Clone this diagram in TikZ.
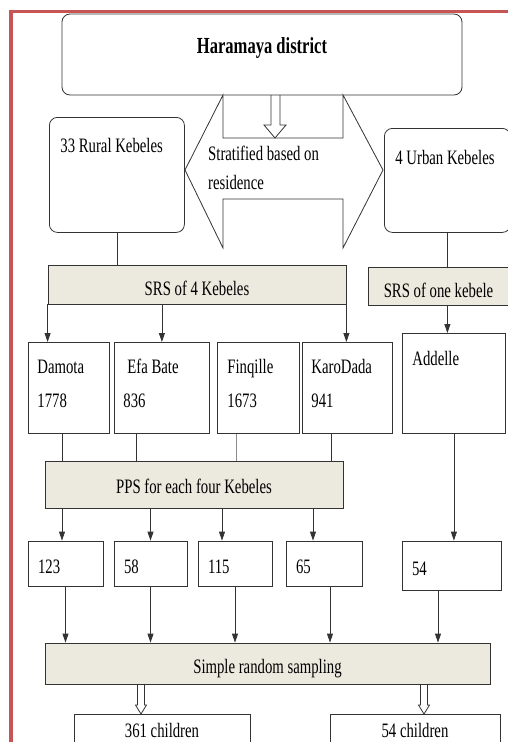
\documentclass[tikz,border=0pt]{standalone}
\usepackage{fontspec}
\setmainfont{Liberation Serif}[FakeStretch=0.72]
\usetikzlibrary{arrows.meta}
\definecolor{bandfill}{RGB}{236,233,222}
\definecolor{framered}{RGB}{200,85,85}

\begin{document}
\begin{tikzpicture}[x=1pt, y=-1pt,
  every node/.style={font=\fontsize{20.5}{34}\selectfont},
  wire/.style={draw=black!80, line width=0.8pt},
  box/.style={wire, inner sep=0pt, align=flush left},
  roundbox/.style={box, rounded corners=8pt},
  band/.style={wire, fill=bandfill, inner sep=0pt, text height=22pt, text depth=0pt},
  kebele/.style={box, anchor=north west, inner xsep=9pt, text height=31pt, text depth=60pt},
  numbox/.style={box, inner xsep=10pt, minimum height=45pt, text height=19pt, text depth=0pt},
  arr/.style={wire, -{Triangle[length=9pt,width=6pt]}}
  ]
  \useasboundingbox (0,0) rectangle (507,742);
  \draw[framered, line width=3.5pt] (11,760) -- (11,11.5) -- (520,11.5);

  % district and the two strata
  \node[roundbox, minimum width=400pt, minimum height=81pt, text height=16pt, text depth=18pt,
    align=center, font=\fontsize{23}{26}\selectfont\bfseries] (district) at (262,54.5) {Haramaya district};
  \draw[wire, fill=white] (223,95) -- (223,138) -- (343,138) -- (343,95) -- (383,170)
    -- (343,248) -- (343,199) -- (223,199) -- (223,248) -- (185,170) -- cycle;
  \draw[wire] (271,95) -- (271,125) -- (264,125) -- (275,138) -- (286,125) -- (280,125) -- (280,95);
  \node[anchor=base west, inner sep=0pt, text width=150pt, align=flush left,
    font=\fontsize{20.5}{29}\selectfont] (strat) at (208,160) {Stratified based on\\residence};
  \node[roundbox, anchor=north west, text width=113pt, inner xsep=11pt, text height=35pt,
    text depth=80pt] (rural) at (49,117) {33 Rural Kebeles};
  \node[roundbox, anchor=north west, text width=104pt, inner xsep=11pt, text height=36pt,
    text depth=68pt] (urban) at (384,128) {4 Urban Kebeles};

  % selection of kebeles
  \node[band, minimum width=298pt, minimum height=39pt] (srs4) at (197,284.5) {SRS of 4 Kebeles};
  \node[band, minimum width=141pt, minimum height=38pt] (srs1) at (438.5,286) {SRS of one kebele};
  \draw[wire] (rural.south) -- (rural.south |- srs4.north);
  \draw[wire] (urban.south) -- (urban.south |- srs1.north);

  \node[kebele, text width=63pt] (damota) at (28,342) {Damota\\1778};
  \node[kebele, text width=77pt] (efabate) at (114,342) {\hspace{4pt}Efa Bate\\836};
  \node[kebele, text width=62pt, inner xsep=10pt] (finqille) at (217,342) {Finqille\\1673};
  \node[kebele, text width=72pt] (karodada) at (302,342) {KaroDada\\941};
  \node[kebele, text width=83pt, inner xsep=10pt, text height=32pt, text depth=68pt] (addelle) at (402,333) {Addelle};
  \draw[arr] (srs4.south west) -- (srs4.south west |- damota.north);
  \draw[arr] (efabate.north |- srs4.south) -- (efabate.north);
  \draw[arr] (srs4.south east) -- (srs4.south east |- karodada.north);
  \draw[arr] (urban.south |- srs1.south) -- (urban.south |- addelle.north);

  % allocation by PPS
  \node[band, minimum width=298pt, minimum height=47pt, text height=17pt] (pps) at (194,484.5) {PPS for each four Kebeles};
  \draw[wire] ([xshift=-6.5pt]damota.south) -- ([xshift=-6.5pt]damota.south |- pps.north);
  \draw[wire] ([xshift=-25.5pt]efabate.south) -- ([xshift=-25.5pt]efabate.south |- pps.north);
  \draw[wire, draw=black!45] ([xshift=-22pt]finqille.south) -- ([xshift=-22pt]finqille.south |- pps.north);
  \draw[wire] ([xshift=-16pt]karodada.south) -- ([xshift=-16pt]karodada.south |- pps.north);

  \node[numbox, text width=55pt] (n123) at (65.5,563.5) {123};
  \node[numbox, text width=53pt] (n58) at (150.5,563.5) {58};
  \node[numbox, text width=54pt] (n115) at (235,563.5) {115};
  \node[numbox, text width=56pt] (n65) at (324,563.5) {65};
  \node[numbox, text width=79pt, minimum height=49pt] (n54) at (451.5,565.5) {54};
  \draw[arr] ([xshift=-3.5pt]n123.north |- pps.south) -- ([xshift=-3.5pt]n123.north);
  \draw[arr] (n58.north |- pps.south) -- (n58.north);
  \draw[arr] ([xshift=-13pt]n115.north |- pps.south) -- ([xshift=-13pt]n115.north);
  \draw[arr] ([xshift=-11pt]n65.north |- pps.south) -- ([xshift=-11pt]n65.north);
  \draw[arr] (addelle.south) -- (addelle.south |- n54.north);

  % final sampling of children
  \node[band, minimum width=445pt, minimum height=41pt, text height=19pt] (sampling) at (267.5,663.5) {Simple random sampling};
  \draw[arr] (n123.south) -- (n123.south |- sampling.north);
  \draw[arr] (n58.south) -- (n58.south |- sampling.north);
  \draw[arr] (n115.south) -- (n115.south |- sampling.north);
  \draw[arr] ([xshift=6pt]n65.south) -- ([xshift=6pt]n65.south |- sampling.north);
  \draw[arr] ([xshift=-13.5pt]n54.south) -- ([xshift=-13.5pt]n54.south |- sampling.north);

  \node[box, anchor=north, align=center, minimum width=176pt, minimum height=29pt,
    text height=18pt, text depth=0pt] (ruralkids) at (162,714) {361 children};
  \node[box, anchor=north, align=center, minimum width=170pt, minimum height=29pt,
    text height=18pt, text depth=0pt] (urbankids) at (415,714) {54 children};
  \coordinate (h1) at (141,684);
  \coordinate (h2) at (424,684);
  \draw[wire] (h1) ++(-3.5,0) -- ++(0,21) -- ++(-2,0) -- ++(5.5,9) -- ++(5.5,-9) -- ++(-2,0) -- ++(0,-21);
  \draw[wire] (h2) ++(-3.5,0) -- ++(0,21) -- ++(-2,0) -- ++(5.5,9) -- ++(5.5,-9) -- ++(-2,0) -- ++(0,-21);
\end{tikzpicture}
\end{document}
